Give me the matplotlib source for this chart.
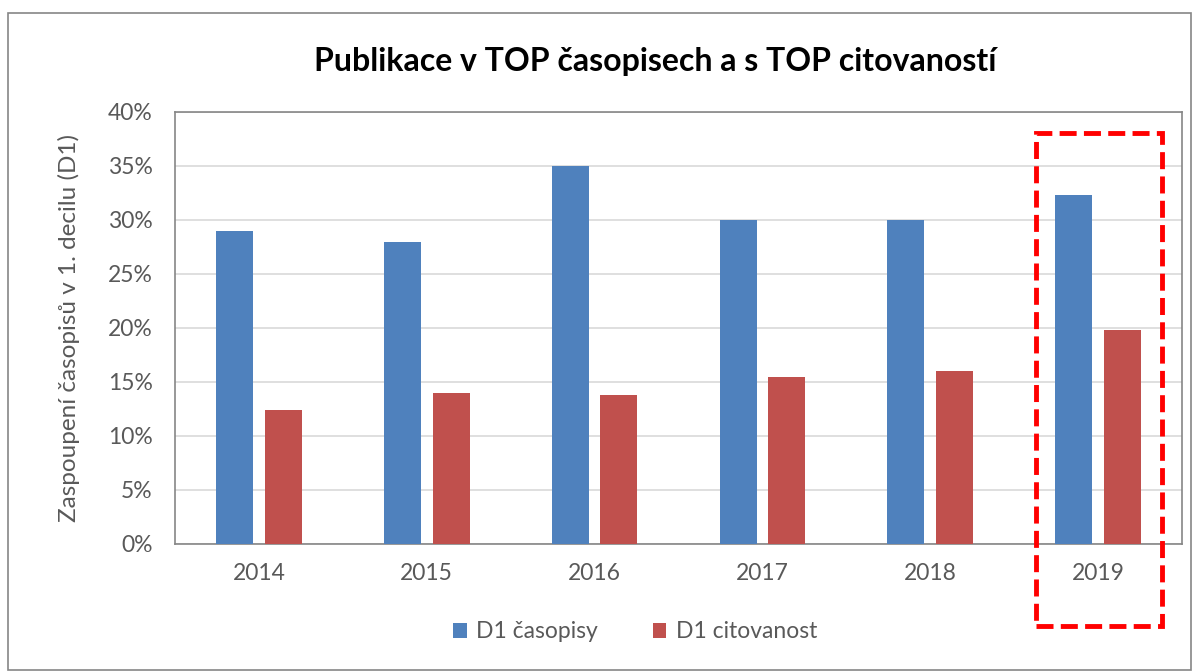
import matplotlib
matplotlib.use("Agg")
import matplotlib.pyplot as plt
from matplotlib.patches import Rectangle
import numpy as np

years = ["2014", "2015", "2016", "2017", "2018", "2019"]
d1_casopisy = [29.0, 28.0, 35.0, 30.0, 30.0, 32.3]
d1_citovanost = [12.4, 14.0, 13.8, 15.5, 16.0, 19.8]
yticks = [0, 5, 10, 15, 20, 25, 30, 35, 40]

plt.rcParams['font.family'] = ['Lato', 'DejaVu Sans']

fig = plt.figure(figsize=(12, 6.71), dpi=100)
ax = fig.add_axes([175/1200, 1-544/671, (1182-175)/1200, (544-112)/671])

x = np.arange(len(years))
w = 0.22
off = 0.145
blue = "#4F81BD"
red = "#C0504D"
ax.bar(x - off, d1_casopisy, w, color=blue, label="D1 časopisy", zorder=3)
ax.bar(x + off, d1_citovanost, w, color=red, label="D1 citovanost", zorder=3)

ax.set_xlim(-0.5, len(years) - 0.5)
ax.set_ylim(0, 40)
ax.set_yticks(yticks)
ax.set_yticklabels([f"{t}%" for t in yticks])
ax.set_xticks(x)
ax.set_xticklabels(years)
ax.tick_params(axis='both', length=0, labelsize=16.5, colors="#595959")
ax.tick_params(axis='y', pad=16)
ax.tick_params(axis='x', pad=14)
ax.grid(axis='y', color="#d9d9d9", linewidth=1.2, zorder=0)
for s in ax.spines.values():
    s.set_color("#868686")
    s.set_linewidth(1.2)
ax.set_ylabel("Zaspoupení časopisů v 1. decilu (D1)", fontsize=17.5, color="#595959", labelpad=20)

fig.text(655/1200, 1-62/671, "Publikace v TOP časopisech a s TOP citovaností",
         ha='center', va='center', fontsize=23, fontweight='bold', color="black")

leg = fig.legend(loc='center', bbox_to_anchor=(635/1200, 1-632/671), ncol=2, frameon=False,
                 fontsize=16.5, handlelength=0.6, handleheight=0.6, columnspacing=2.4,
                 handletextpad=0.4)
for t in leg.get_texts():
    t.set_color("#595959")

# dashed highlight around 2019
rect = Rectangle((5 - 0.37, -7.6), 0.75, 38.05 + 7.6, fill=False, edgecolor="#FF0000",
                 linewidth=3.5, linestyle=(0, (3.5, 1.5)), clip_on=False, zorder=5)
ax.add_patch(rect)

# outer border
border = Rectangle((8/1200, 0.002), (1191-8)/1200, 1-13/671-0.002, transform=fig.transFigure,
                   fill=False, edgecolor="#868686", linewidth=1.2)
fig.patches.append(border)

fig.savefig("out.png", dpi=100)
